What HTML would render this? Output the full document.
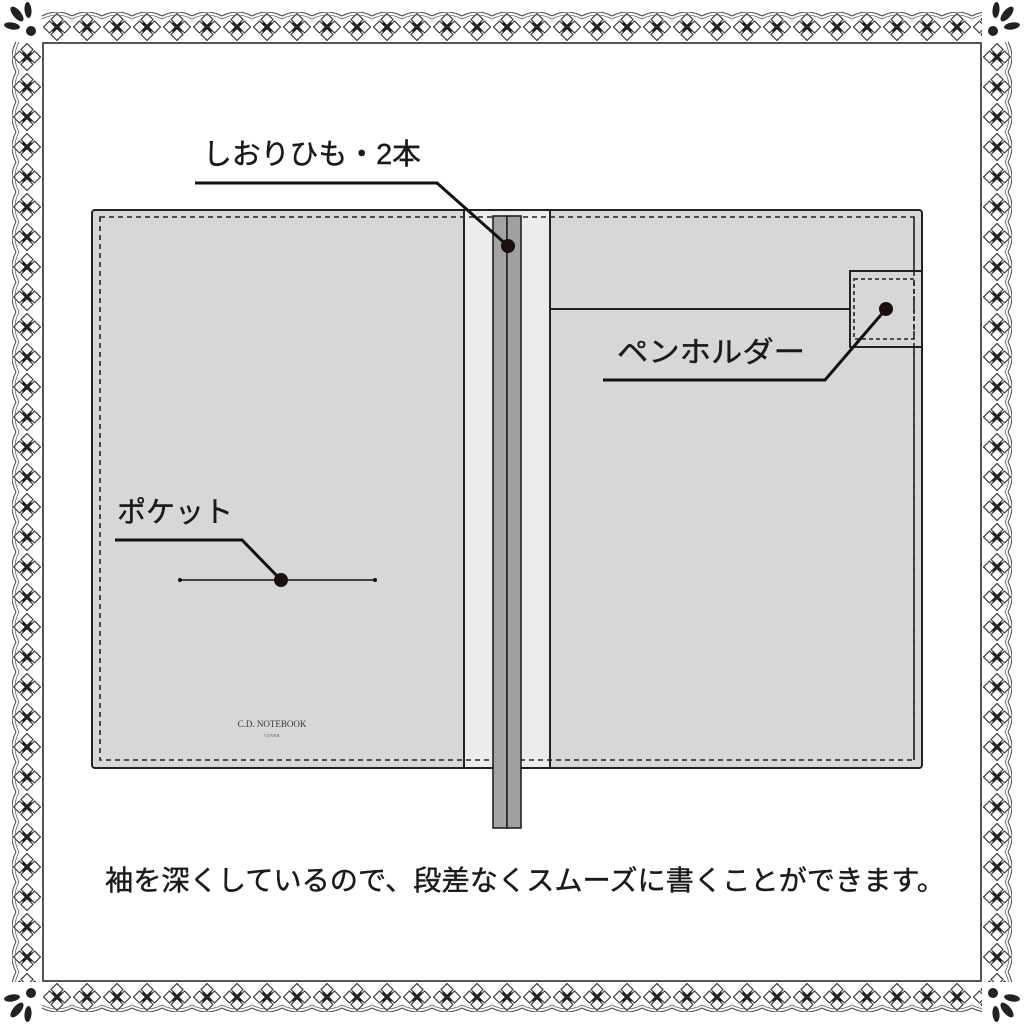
<!DOCTYPE html>
<html><head><meta charset="utf-8"><style>html,body{margin:0;padding:0;background:#fff}svg{display:block}</style></head>
<body>
<svg width="1024" height="1024" viewBox="0 0 1024 1024" xmlns="http://www.w3.org/2000/svg" font-family="Liberation Sans, Noto Sans CJK JP, sans-serif">
<defs>
<g id="fl">
  <path d="M15 1.5 L21 7.5 L15 13.5 L9 7.5Z M15 28.5 L21 22.5 L15 16.5 L9 22.5Z M1.5 15 L7.5 9 L13.5 15 L7.5 21Z M28.5 15 L22.5 9 L16.5 15 L22.5 21Z" fill="none" stroke="#333" stroke-width="1.2" stroke-linejoin="round"/>
  <path d="M10.5 10.5 L19.5 19.5 M19.5 10.5 L10.5 19.5" stroke="#222" stroke-width="3"/>
</g>
<pattern id="ph" patternUnits="userSpaceOnUse" x="42" y="12" width="30" height="30">
  <use href="#fl"/>
  <path d="M0 4 Q15 -4 30 4" fill="none" stroke="#444" stroke-width="1"/>
  <path d="M0 7 Q15 -1 30 7" fill="none" stroke="#666" stroke-width="0.8"/>
</pattern>
<pattern id="pb" patternUnits="userSpaceOnUse" x="42" y="982" width="30" height="30">
  <use href="#fl"/>
  <path d="M0 26 Q15 34 30 26" fill="none" stroke="#444" stroke-width="1"/>
  <path d="M0 23 Q15 31 30 23" fill="none" stroke="#666" stroke-width="0.8"/>
</pattern>
<pattern id="pl" patternUnits="userSpaceOnUse" x="12" y="42" width="30" height="30">
  <use href="#fl"/>
  <path d="M4 0 Q-4 15 4 30" fill="none" stroke="#444" stroke-width="1"/>
  <path d="M7 0 Q-1 15 7 30" fill="none" stroke="#666" stroke-width="0.8"/>
</pattern>
<pattern id="pr" patternUnits="userSpaceOnUse" x="982" y="42" width="30" height="30">
  <use href="#fl"/>
  <path d="M26 0 Q34 15 26 30" fill="none" stroke="#444" stroke-width="1"/>
  <path d="M23 0 Q31 15 23 30" fill="none" stroke="#666" stroke-width="0.8"/>
</pattern>
<g id="corner">
  <circle cx="31" cy="31" r="5" fill="#222"/>
  <ellipse cx="17" cy="14" rx="4" ry="9" transform="rotate(-40 17 14)" fill="#222"/>
  <ellipse cx="28" cy="10" rx="3.5" ry="8" transform="rotate(-5 28 10)" fill="#222"/>
  <ellipse cx="12" cy="26" rx="3.5" ry="8" transform="rotate(-80 12 26)" fill="#222"/>
</g>
</defs>
<rect x="42" y="12" width="940" height="30" fill="url(#ph)"/>
<rect x="42" y="982" width="940" height="30" fill="url(#pb)"/>
<rect x="12" y="42" width="30" height="940" fill="url(#pl)"/>
<rect x="982" y="42" width="30" height="940" fill="url(#pr)"/>
<rect x="43" y="43" width="938" height="938" fill="#fff" stroke="#555" stroke-width="2"/>
<use href="#corner"/>
<use href="#corner" transform="translate(1024 0) scale(-1 1)"/>
<use href="#corner" transform="translate(0 1024) scale(1 -1)"/>
<use href="#corner" transform="translate(1024 1024) scale(-1 -1)"/>

<rect x="92" y="210" width="830" height="558" rx="3" fill="#d7d7d7" stroke="#222" stroke-width="2"/>
<rect x="464" y="211" width="86" height="556" fill="#ececec"/>
<line x1="464" y1="211" x2="464" y2="767" stroke="#222" stroke-width="2"/>
<line x1="550" y1="211" x2="550" y2="767" stroke="#222" stroke-width="2"/>
<rect x="100" y="217" width="814" height="543" fill="none" stroke="#222" stroke-width="1.6" stroke-dasharray="5 4"/>
<line x1="550" y1="309" x2="850" y2="309" stroke="#222" stroke-width="2"/>
<rect x="850" y="271" width="72" height="76" fill="#d7d7d7" stroke="#222" stroke-width="2"/>
<rect x="854" y="279" width="60" height="60" fill="none" stroke="#222" stroke-width="1.6" stroke-dasharray="4 3"/>
<line x1="914" y1="217" x2="914" y2="760" stroke="#222" stroke-width="1.6" stroke-dasharray="5 4"/>
<rect x="493" y="216" width="14" height="612" fill="#a3a3a3" stroke="#222" stroke-width="1.6"/>
<rect x="507" y="216" width="14" height="612" fill="#9da2a0" stroke="#222" stroke-width="1.6"/>
<text x="272" y="727" font-family="Liberation Serif, serif" font-size="9" text-anchor="middle" fill="#333">C.D. NOTEBOOK</text>
<text x="272" y="737" font-family="Liberation Serif, serif" font-size="4.5" text-anchor="middle" fill="#555">COVER</text>

<g stroke="#111" stroke-width="3" fill="none">
<polyline points="195,183 437,183 508,246"/>
<polyline points="603,380 825,380 886,309"/>
<polyline points="115,540 242,540 281,580"/>
</g>
<line x1="180" y1="580" x2="375" y2="580" stroke="#111" stroke-width="1.6"/>
<circle cx="180" cy="580" r="2" fill="#111"/><circle cx="375" cy="580" r="2" fill="#111"/>
<circle cx="508" cy="246" r="7" fill="#1a1010"/>
<circle cx="886" cy="309" r="7" fill="#1a1010"/>
<circle cx="281" cy="580" r="7" fill="#1a1010"/>

<g fill="#1a1a1a" stroke="#1a1a1a" stroke-width="0.4">
<text x="203" y="164" font-size="29" textLength="218" lengthAdjust="spacingAndGlyphs">しおりひも・2本</text>
<text x="617" y="362" font-size="29" textLength="188" lengthAdjust="spacingAndGlyphs">ペンホルダー</text>
<text x="117" y="522" font-size="29" textLength="116" lengthAdjust="spacingAndGlyphs">ポケット</text>
<text x="105" y="890" font-size="28" textLength="840" lengthAdjust="spacingAndGlyphs">袖を深くしているので、段差なくスムーズに書くことができます。</text>
</g>
</svg>
</body></html>
